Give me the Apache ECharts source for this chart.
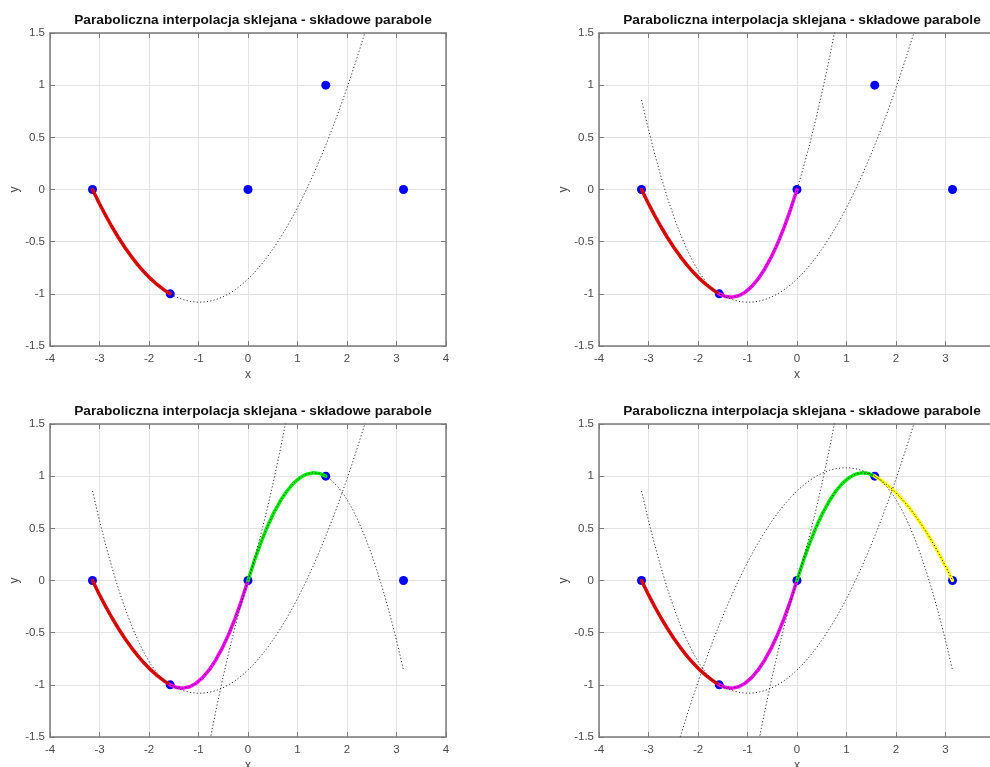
<!DOCTYPE html>
<html>
<head>
<meta charset="utf-8">
<script src="https://cdn.jsdelivr.net/npm/echarts@6/dist/echarts.min.js"></script>
<style>
html,body{margin:0;padding:0;background:#fff;}
#chart{width:990px;height:767px;}
</style>
</head>
<body>
<div id="chart"></div>
<script>
// ---- data ----
const titleText = 'Paraboliczna interpolacja sklejana - składowe parabole';
const xTicks = [-4, -3, -2, -1, 0, 1, 2, 3, 4];
const yTicks = [-1.5, -1, -0.5, 0, 0.5, 1, 1.5];
// interpolation nodes
const nodeX = [-3.1416, -1.5708, 0, 1.5708, 3.1416];
const nodeY = [0, -1, 0, 1, 0];
// sample x positions of the component parabolas
const xs = [-3.1416, -3.0107, -2.8798, -2.7489, -2.6180, -2.4871, -2.3562, -2.2253, -2.0944,
            -1.9635, -1.8326, -1.7017, -1.5708, -1.4399, -1.3090, -1.1781, -1.0472, -0.9163,
            -0.7854, -0.6545, -0.5236, -0.3927, -0.2618, -0.1309, 0,
            0.1309, 0.2618, 0.3927, 0.5236, 0.6545, 0.7854, 0.9163, 1.0472, 1.1781, 1.3090,
            1.4399, 1.5708, 1.7017, 1.8326, 1.9635, 2.0944, 2.2253, 2.3562, 2.4871, 2.6180,
            2.7489, 2.8798, 3.0107, 3.1416];
// component parabolas sampled at xs (null = far outside the plotted range)
const par1 = [0, -0.12694, -0.24594, -0.35703, -0.46018, -0.55540, -0.64270, -0.72207, -0.79351,
              -0.85703, -0.91261, -0.96027, -1, -1.03181, -1.05568, -1.07163, -1.07965, -1.07974,
              -1.07190, -1.05614, -1.03245, -1.00083, -0.96128, -0.91381, -0.85841,
              -0.79508, -0.72382, -0.64464, -0.55752, -0.46248, -0.35952, -0.24862, -0.12980, -0.00305, 0.13163,
              0.27424, 0.42477, 0.58323, 0.74962, 0.92394, 1.10619, 1.29636, 1.49446, 1.70049, 1.91445,
              2.13633, 2.36614, 2.60388, 2.84955];
const par2 = [0.85841, 0.59437, 0.35017, 0.12583, -0.07866, -0.26330, -0.42810, -0.57304, -0.69813,
              -0.80337, -0.88877, -0.95431, -1, -1.02584, -1.03183, -1.01798, -0.98427, -0.93071,
              -0.85730, -0.76404, -0.65093, -0.51798, -0.36517, -0.19251, 0,
              0.21236, 0.44457, 0.69663, 0.96854, 1.26030, 1.57191, 1.90337, null, null, null,
              null, null, null, null, null, null, null, null, null, null,
              null, null, null, null];
const par3 = [null, null, null, null, null, null, null, null, null,
              null, null, null, null, null, null, null, null, -1.90337,
              -1.57191, -1.26030, -0.96854, -0.69663, -0.44457, -0.21236, 0,
              0.19251, 0.36517, 0.51798, 0.65093, 0.76404, 0.85730, 0.93071, 0.98427, 1.01798, 1.03183,
              1.02584, 1, 0.95431, 0.88877, 0.80337, 0.69813, 0.57304, 0.42810, 0.26330, 0.07866,
              -0.12583, -0.35017, -0.59437, -0.85841];
const par4 = [-2.84955, -2.60388, -2.36614, -2.13633, -1.91445, -1.70049, -1.49446, -1.29636, -1.10619,
              -0.92394, -0.74962, -0.58323, -0.42477, -0.27424, -0.13163, 0.00305, 0.12980, 0.24862,
              0.35952, 0.46248, 0.55752, 0.64464, 0.72382, 0.79508, 0.85841,
              0.91381, 0.96128, 1.00083, 1.03245, 1.05614, 1.07190, 1.07974, 1.07965, 1.07163, 1.05568,
              1.03181, 1, 0.96027, 0.91261, 0.85703, 0.79351, 0.72207, 0.64270, 0.55540, 0.46018,
              0.35703, 0.24594, 0.12694, 0];
const parabolas = [par1, par2, par3, par4];
// index ranges in xs of each spline piece
const segStart = [0, 12, 24, 36];
const segEnd = [12, 24, 36, 48];
const segColors = ['#ee0000', '#ff00ff', '#00ee00', '#ffff00'];

// ---- layout ----
const grids = [
  {left: 50, top: 33, width: 396, height: 313, outerBoundsMode: 'none'},
  {left: 599, top: 33, width: 396, height: 313, outerBoundsMode: 'none'},
  {left: 50, top: 424, width: 396, height: 313, outerBoundsMode: 'none'},
  {left: 599, top: 424, width: 396, height: 313, outerBoundsMode: 'none'}
];
const centers = [248, 797, 248, 797];
const FONT = 'Liberation Sans, Arial, Helvetica, sans-serif';
const axisCol = '#7a7a7a';
const labCol = '#4a4a4a';

const xAxes = [], yAxes = [], titles = [], series = [];
grids.forEach((g, i) => {
  xAxes.push({
    type: 'value', gridIndex: i, position: 'bottom',
    min: xTicks[0], max: xTicks[xTicks.length - 1], interval: 1,
    name: 'x', nameLocation: 'middle', nameGap: 23,
    nameTextStyle: {color: labCol, fontSize: 12, fontFamily: FONT},
    axisLine: {onZero: false, lineStyle: {color: axisCol, width: 1.5}},
    axisTick: {inside: true, length: 5, lineStyle: {color: axisCol}},
    axisLabel: {color: labCol, fontSize: 11.5, fontFamily: FONT, margin: 7},
    splitLine: {show: true, lineStyle: {color: '#e3e3e3', width: 1}}
  });
  xAxes.push({
    type: 'value', gridIndex: i, position: 'top',
    min: xTicks[0], max: xTicks[xTicks.length - 1], interval: 1,
    axisLine: {onZero: false, lineStyle: {color: axisCol, width: 1.5}},
    axisTick: {inside: true, length: 5, lineStyle: {color: axisCol}},
    axisLabel: {show: false}, splitLine: {show: false}
  });
  yAxes.push({
    type: 'value', gridIndex: i, position: 'left',
    min: yTicks[0], max: yTicks[yTicks.length - 1], interval: 0.5,
    name: 'y', nameLocation: 'middle', nameGap: 29, nameRotate: 90,
    nameTextStyle: {color: labCol, fontSize: 12, fontFamily: FONT},
    axisLine: {onZero: false, lineStyle: {color: axisCol, width: 1.5}},
    axisTick: {inside: true, length: 5, lineStyle: {color: axisCol}},
    axisLabel: {color: labCol, fontSize: 11.5, fontFamily: FONT, margin: 5},
    splitLine: {show: true, lineStyle: {color: '#e3e3e3', width: 1}}
  });
  yAxes.push({
    type: 'value', gridIndex: i, position: 'right',
    min: yTicks[0], max: yTicks[yTicks.length - 1], interval: 0.5,
    axisLine: {onZero: false, lineStyle: {color: axisCol, width: 1.5}},
    axisTick: {inside: true, length: 5, lineStyle: {color: axisCol}},
    axisLabel: {show: false}, splitLine: {show: false}
  });
  titles.push({
    text: titleText, left: centers[i], top: g.top - 25, textAlign: 'center',
    textStyle: {fontSize: 13.7, fontWeight: 'bold', color: '#111', fontFamily: FONT}
  });
  // nodes
  series.push({
    type: 'scatter', xAxisIndex: 2 * i, yAxisIndex: 2 * i, z: 2,
    symbol: 'circle', symbolSize: 9, itemStyle: {color: '#0000ff', opacity: 1},
    data: nodeX.map((x, k) => [x, nodeY[k]])
  });
  for (let s = 0; s <= i; s++) {
    const pts = [];
    for (let k = segStart[s]; k <= segEnd[s]; k++) pts.push([xs[k], parabolas[s][k]]);
    series.push({
      type: 'line', xAxisIndex: 2 * i, yAxisIndex: 2 * i, z: 3,
      smooth: false, showSymbol: false, symbol: 'none',
      lineStyle: {color: segColors[s], width: 3.5, cap: 'round', join: 'round'},
      data: pts
    });
  }
  for (let s = 0; s <= i; s++) {
    const pts = [];
    xs.forEach((x, k) => { if (parabolas[s][k] !== null) pts.push([x, parabolas[s][k]]); });
    series.push({
      type: 'line', xAxisIndex: 2 * i, yAxisIndex: 2 * i, z: 4,
      smooth: false, showSymbol: false, symbol: 'none', clip: true,
      lineStyle: {color: '#333', width: 1, type: [1.2, 2.2]},
      data: pts
    });
  }
});

const chart = echarts.init(document.getElementById('chart'), null, {renderer: 'canvas'});
chart.setOption({
  animation: false,
  backgroundColor: '#fff',
  title: titles,
  grid: grids,
  xAxis: xAxes,
  yAxis: yAxes,
  series: series
});
</script>
</body>
</html>
